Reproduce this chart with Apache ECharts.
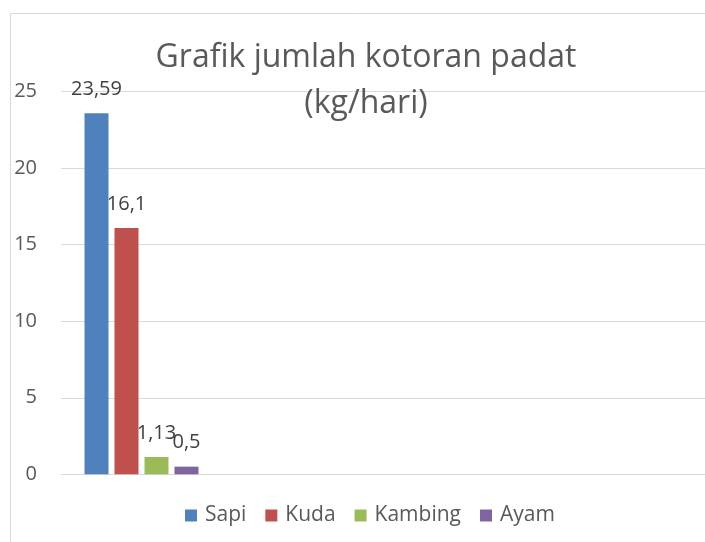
<!DOCTYPE html>
<html>
<head>
<meta charset="utf-8">
<script src="https://cdn.jsdelivr.net/npm/echarts@6/dist/echarts.min.js"></script>
<style>
html,body{margin:0;padding:0;background:#fff;}
#chart{width:705px;height:542px;}
</style>
</head>
<body>
<div id="chart"></div>
<script>
// Data
const categories = ['', '', '', ''];
const seriesNames = ['Sapi', 'Kuda', 'Kambing', 'Ayam'];
const sapi = [23.59, null, null, null];
const kuda = [16.1, null, null, null];
const kambing = [1.13, null, null, null];
const ayam = [0.5, null, null, null];
const yTicks = { min: 0, max: 25, interval: 5 };
const titleText = 'Grafik jumlah kotoran padat\n(kg/hari)';

const colors = ['#4f81bd', '#c0504d', '#9bbb59', '#8064a2'];
const FONT = '"Open Sans", sans-serif';

const chart = echarts.init(document.getElementById('chart'), null, { renderer: 'canvas' });

const values = [sapi, kuda, kambing, ayam];
const series = seriesNames.map((name, i) => ({
  name: name,
  type: 'bar',
  data: values[i],
  barWidth: 24,
  barGap: '25%',
  itemStyle: { color: colors[i] },
  label: {
    show: true,
    position: 'top',
    distance: 14,
    color: '#404040',
    fontSize: 20,
    fontFamily: FONT,
    formatter: p => (p.value == null ? '' : String(p.value).replace('.', ','))
  }
}));

chart.setOption({
  animation: false,
  color: colors,
  graphic: [{
    type: 'rect',
    shape: { x: 10.5, y: 13.5, width: 760, height: 600 },
    style: { fill: null, stroke: '#d9d9d9', lineWidth: 1 },
    z: 0
  }],
  title: {
    text: titleText,
    left: 366,
    textAlign: 'center',
    top: 35,
    padding: 0,
    textStyle: {
      fontFamily: FONT,
      fontSize: 32,
      fontWeight: 'normal',
      color: '#595959',
      lineHeight: 46
    }
  },
  legend: {
    data: seriesNames,
    left: 185,
    top: 505,
    padding: 0,
    icon: 'rect',
    itemWidth: 12,
    itemHeight: 12,
    itemGap: 19,
    textStyle: {
      fontFamily: FONT,
      fontSize: 21,
      color: '#595959',
      padding: [0, 0, 0, 3]
    }
  },
  grid: {
    left: 61,
    top: 91.7,
    width: 652,
    height: 382.6
  },
  xAxis: {
    type: 'category',
    data: categories,
    axisLine: { show: true, lineStyle: { color: '#d9d9d9', width: 1 } },
    axisTick: { show: false },
    axisLabel: { show: false },
    splitLine: { show: false }
  },
  yAxis: {
    type: 'value',
    min: yTicks.min,
    max: yTicks.max,
    interval: yTicks.interval,
    axisLine: { show: false },
    axisTick: { show: false },
    axisLabel: {
      margin: 24,
      fontFamily: FONT,
      fontSize: 20,
      color: '#595959'
    },
    splitLine: { show: true, lineStyle: { color: '#d9d9d9', width: 1 } }
  },
  series: series
});
</script>
</body>
</html>
